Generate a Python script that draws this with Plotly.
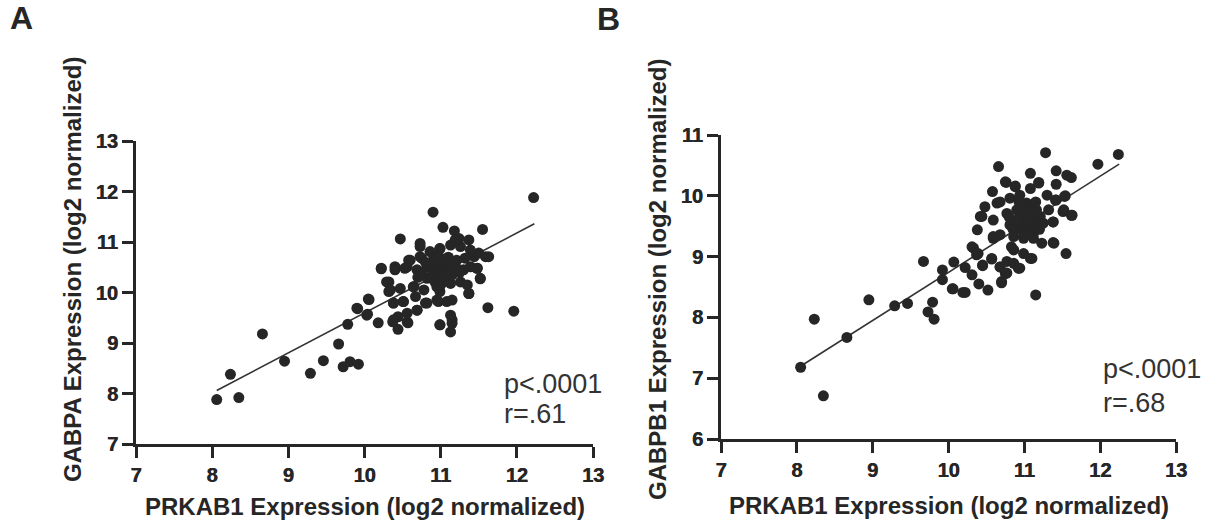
import plotly.graph_objects as go

# ---------------- Data ----------------
# Panel A: PRKAB1 vs GABPA
a_x = [8.06, 8.24, 8.35, 8.66, 8.95, 9.29, 9.46, 9.66, 9.78, 9.72, 9.81, 9.92, 9.91, 10.04, 10.06,
       10.18, 10.22, 10.32, 10.32, 10.38, 10.37, 10.44, 10.44, 10.40, 10.47, 10.51, 10.56, 10.57,
       10.56, 10.60, 10.65, 10.69, 10.67, 10.73, 10.75, 10.80, 10.90, 10.91, 10.97, 10.99, 10.99,
       11.03, 11.08, 11.13, 11.15, 11.13, 11.18, 11.19, 11.26, 11.37, 11.37, 11.39, 11.44, 11.48,
       11.52, 11.55, 11.59, 11.62, 11.63, 11.96, 12.22,
       10.73, 10.86, 10.99, 11.13, 11.24, 11.39, 11.50, 10.58, 10.73, 10.22, 10.40, 10.53, 10.69,
       10.82, 10.95, 11.08, 11.21, 11.32, 10.82, 11.04, 11.17, 11.30, 11.48, 11.52, 10.29, 10.34,
       10.47, 10.64, 10.78, 10.95, 10.91, 10.99, 11.13, 11.26, 11.37, 11.35, 10.05, 9.90, 10.03,
       10.38, 10.51, 10.69, 10.82, 10.95, 11.15, 10.38, 10.56, 10.99, 11.15,
       10.90, 11.00, 11.05, 10.95, 11.10, 11.00, 10.85, 11.15, 10.90, 11.05, 10.98, 11.10, 10.80,
       11.20, 10.93, 11.08, 10.88, 11.12, 10.75, 11.25, 10.70, 11.00]
a_y = [7.88, 8.38, 7.92, 9.18, 8.64, 8.40, 8.65, 8.98, 9.37, 8.53, 8.63, 8.58, 9.68, 9.57, 9.86,
       9.40, 10.48, 10.21, 10.02, 9.79, 9.42, 9.52, 9.27, 10.51, 11.06, 9.82, 9.59, 9.40,
       10.51, 10.64, 10.12, 9.65, 9.92, 10.91, 10.68, 9.79, 11.59, 10.71, 9.82, 10.87, 9.36,
       11.29, 9.82, 9.55, 9.46, 9.22, 11.22, 11.04, 10.91, 11.04, 9.98, 10.51, 10.71, 10.48,
       10.28, 11.25, 10.71, 9.70, 10.71, 9.63, 11.88,
       10.97, 10.81, 10.87, 10.94, 11.07, 10.84, 10.78, 10.64, 10.71, 10.47, 10.45, 10.48, 10.45,
       10.51, 10.58, 10.58, 10.64, 10.68, 10.28, 10.31, 10.41, 10.45, 10.48, 10.27, 10.21, 10.05,
       10.08, 10.11, 10.05, 10.11, 10.25, 10.02, 10.18, 10.21, 9.98, 10.15, 9.87, 9.69, 9.55,
       9.79, 9.82, 9.65, 9.79, 9.85, 9.85, 9.46, 9.42, 9.36, 9.39,
       10.40, 10.50, 10.45, 10.35, 10.50, 10.60, 10.50, 10.35, 10.60, 10.30, 10.70, 10.70, 10.60,
       10.50, 10.20, 10.40, 10.30, 10.60, 10.40, 10.40, 10.30, 10.15]
a_fit_x = [8.06, 12.23]
a_fit_y = [8.06, 11.36]

# Panel B: PRKAB1 vs GABPB1
b_x = [8.05, 8.23, 8.35, 8.66, 8.95, 9.29, 9.46, 9.67, 9.73, 9.79, 9.81, 9.92, 9.92, 10.05, 10.07,
       10.19, 10.22, 10.31, 10.33, 10.37, 10.40, 10.38, 10.42, 10.45, 10.48, 10.52, 10.57, 10.58,
       10.59, 10.66, 10.64, 10.68, 10.70, 10.75, 10.75, 10.77, 10.83, 10.88, 10.94, 11.08, 11.08,
       11.15, 11.19, 11.28, 11.39, 11.42, 11.42, 11.55, 11.56, 11.62, 11.62, 11.54, 11.51, 11.97,
       12.24, 11.38, 11.42,
       10.76, 10.88, 11.08, 11.19, 10.68, 10.81, 10.94, 11.03, 11.30, 11.41, 11.53, 10.44, 10.59,
       10.77, 10.90, 11.16, 11.32, 11.52, 11.63, 10.59, 10.68, 10.81, 10.94, 11.08, 11.21, 11.38,
       10.86, 10.99, 11.12, 11.23, 11.38, 10.31, 10.39, 10.57, 10.68, 10.77, 10.86, 10.92, 10.70,
       10.86, 10.99, 11.10, 10.45, 10.06, 10.22,
       11.00, 11.05, 10.95, 11.10, 11.00, 10.90, 11.15, 11.05, 10.98, 11.10, 11.20, 10.85, 11.03,
       11.08, 10.93, 11.15, 11.25, 10.80, 11.00, 11.12]
b_y = [7.18, 7.97, 6.71, 7.67, 8.29, 8.19, 8.23, 8.92, 8.09, 8.25, 7.97, 8.78, 8.62, 8.47, 8.91,
       8.41, 8.82, 8.70, 9.14, 9.03, 8.55, 9.44, 9.66, 8.85, 9.82, 8.45, 8.96, 10.07,
       9.30, 10.48, 9.88, 8.83, 8.59, 8.72, 10.23, 8.92, 9.16, 10.15, 8.81, 10.37, 8.97,
       8.37, 10.21, 10.71, 9.22, 10.41, 10.19, 9.05, 10.34, 10.30, 9.68, 10.00, 9.74, 10.52,
       10.68, 9.57, 9.93,
       10.22, 10.16, 10.12, 10.22, 9.90, 9.96, 10.01, 9.88, 10.01, 9.93, 9.99, 9.66, 9.60,
       9.71, 9.77, 9.77, 9.77, 9.77, 9.68, 9.33, 9.36, 9.52, 9.55, 9.60, 9.66, 9.57,
       9.33, 9.30, 9.38, 9.22, 9.23, 9.16, 9.05, 8.97, 8.83, 8.73, 8.89, 8.81, 8.57,
       9.11, 9.05, 8.97, 8.86, 8.47, 8.41,
       9.50, 9.60, 9.45, 9.50, 9.70, 9.60, 9.55, 9.40, 9.80, 9.85, 9.45, 9.45, 9.65,
       9.70, 9.90, 9.90, 9.55, 9.65, 9.35, 9.30]
b_fit_x = [8.09, 12.25]
b_fit_y = [7.23, 10.52]

ticks_x = [7, 8, 9, 10, 11, 12, 13]
ticks_a_y = [7, 8, 9, 10, 11, 12, 13]
ticks_b_y = [6, 7, 8, 9, 10, 11]

x_title = "PRKAB1 Expression (log2 normalized)"
a_y_title = "GABPA Expression (log2 normalized)"
b_y_title = "GABPB1 Expression (log2 normalized)"

# ---------------- Figure ----------------
W, H = 1217, 531
DOT = "#262626"
INK = "#262626"

fig = go.Figure()

fig.add_trace(go.Scatter(x=a_fit_x, y=a_fit_y, mode="lines",
                         line=dict(color="#333333", width=1.6), xaxis="x", yaxis="y",
                         showlegend=False, hoverinfo="skip"))
fig.add_trace(go.Scatter(x=a_x, y=a_y, mode="markers",
                         marker=dict(color=DOT, size=11, line=dict(width=0)),
                         xaxis="x", yaxis="y", showlegend=False))
fig.add_trace(go.Scatter(x=b_fit_x, y=b_fit_y, mode="lines",
                         line=dict(color="#333333", width=1.6), xaxis="x2", yaxis="y2",
                         showlegend=False, hoverinfo="skip"))
fig.add_trace(go.Scatter(x=b_x, y=b_y, mode="markers",
                         marker=dict(color=DOT, size=11, line=dict(width=0)),
                         xaxis="x2", yaxis="y2", showlegend=False))


def px_x(p):
    return p / W


def px_y(p):
    return 1 - p / H


def bold(vals):
    return ["<b>%d</b>" % v for v in vals]


FAM = "Liberation Sans, Arial, sans-serif"
tickfont = dict(family=FAM, size=20, color=INK, weight="bold",
                shadow="0.5px 0px 0px #262626")
axis_common = dict(showline=True, linecolor=INK, linewidth=3, ticks="outside", ticklen=11,
                   tickwidth=3, tickcolor=INK, showgrid=False, zeroline=False,
                   tickfont=tickfont, mirror=False, fixedrange=True, automargin=False)

fig.update_layout(
    width=W, height=H, autosize=False,
    margin=dict(l=0, r=0, t=0, b=0, pad=0, autoexpand=False),
    paper_bgcolor="white", plot_bgcolor="white",
    xaxis=dict(domain=[px_x(136), px_x(593)], range=[7, 13], tickvals=ticks_x,
               ticktext=bold(ticks_x), anchor="y", **axis_common),
    yaxis=dict(domain=[px_y(444), px_y(141)], range=[7, 13], tickvals=ticks_a_y,
               ticktext=bold(ticks_a_y), anchor="x", **axis_common),
    xaxis2=dict(domain=[px_x(721), px_x(1176)], range=[7, 13], tickvals=ticks_x,
                ticktext=bold(ticks_x), anchor="y2", **axis_common),
    yaxis2=dict(domain=[px_y(439), px_y(135)], range=[6, 11], tickvals=ticks_b_y,
                ticktext=bold(ticks_b_y), anchor="x2", **axis_common),
)

title_font = dict(family=FAM, size=24, color=INK)
stat_font = dict(family=FAM, size=27, color="#333333")
letter_font = dict(family=FAM, size=32, color=INK)

ann = []
# x titles
ann.append(dict(text="<b>%s</b>" % x_title, x=px_x(365), y=px_y(506), xref="paper", yref="paper",
                xanchor="center", yanchor="middle", showarrow=False, font=title_font))
ann.append(dict(text="<b>%s</b>" % x_title, x=px_x(949), y=px_y(505), xref="paper", yref="paper",
                xanchor="center", yanchor="middle", showarrow=False, font=title_font))
# y titles
ann.append(dict(text="<b>%s</b>" % a_y_title, x=px_x(72), y=px_y(270), xref="paper", yref="paper",
                xanchor="center", yanchor="middle", textangle=-90, showarrow=False, font=title_font))
ann.append(dict(text="<b>%s</b>" % b_y_title, x=px_x(657), y=px_y(280), xref="paper", yref="paper",
                xanchor="center", yanchor="middle", textangle=-90, showarrow=False, font=title_font))
# stats
ann.append(dict(text="p<.0001", x=px_x(502), y=px_y(384), xref="paper", yref="paper",
                xanchor="left", yanchor="middle", showarrow=False, font=stat_font))
ann.append(dict(text="r=.61", x=px_x(502), y=px_y(414), xref="paper", yref="paper",
                xanchor="left", yanchor="middle", showarrow=False, font=stat_font))
ann.append(dict(text="p<.0001", x=px_x(1101), y=px_y(369), xref="paper", yref="paper",
                xanchor="left", yanchor="middle", showarrow=False, font=stat_font))
ann.append(dict(text="r=.68", x=px_x(1101), y=px_y(403), xref="paper", yref="paper",
                xanchor="left", yanchor="middle", showarrow=False, font=stat_font))
# panel letters
ann.append(dict(text="<b>A</b>", x=px_x(8), y=px_y(18), xref="paper", yref="paper",
                xanchor="left", yanchor="middle", showarrow=False, font=letter_font))
ann.append(dict(text="<b>B</b>", x=px_x(595), y=px_y(19), xref="paper", yref="paper",
                xanchor="left", yanchor="middle", showarrow=False, font=letter_font))

fig.update_layout(annotations=ann)

fig.write_html("out.html", config={"displayModeBar": False},
               post_script="document.body.style.margin='0';document.body.style.overflow='hidden';")
